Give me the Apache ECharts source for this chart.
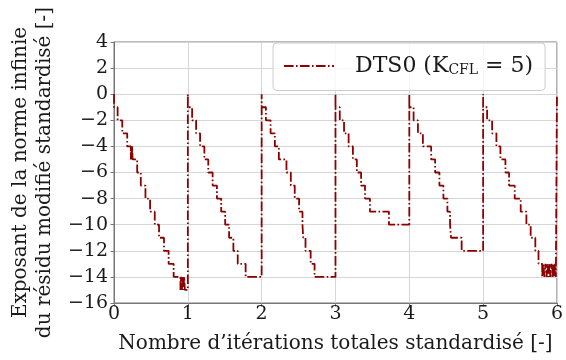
<!DOCTYPE html>
<html>
<head>
<meta charset="utf-8">
<script src="https://cdn.jsdelivr.net/npm/echarts@6/dist/echarts.min.js"></script>
<style>html,body{margin:0;padding:0;background:#fff}#c{width:566px;height:360px}</style>
</head>
<body>
<div id="c"></div>
<script>
// Step points: at each x the residual exponent becomes y
const run1X = [0, 0, 0.049, 0.112, 0.179, 0.228, 0.234, 0.240, 0.246, 0.252, 0.314, 0.363, 0.426, 0.489, 0.552, 0.610, 0.677, 0.740, 0.808, 0.900, 0.910, 0.920, 0.930, 0.940, 0.950, 0.960];
const run1Y = [0, -1, -2, -3, -4, -5, -4, -5, -4, -5, -6, -7, -8, -9, -10, -11, -12, -13, -14, -15, -14, -15, -14, -15, -14, -15];
const run2X = [1, 1, 1.058, 1.112, 1.166, 1.224, 1.277, 1.336, 1.394, 1.452, 1.506, 1.559, 1.617, 1.676, 1.783];
const run2Y = [0, -1, -2, -3, -4, -5, -6, -7, -8, -9, -10, -11, -12, -13, -14];
const run3X = [2, 2, 2.058, 2.121, 2.179, 2.233, 2.336, 2.395, 2.448, 2.507, 2.553, 2.563, 2.594, 2.664, 2.717];
const run3Y = [0, -1, -2, -3, -4, -5, -6, -7, -8, -9, -10, -11, -12, -13, -14];
const run4X = [3, 3, 3.058, 3.116, 3.178, 3.236, 3.289, 3.347, 3.400, 3.467, 3.724];
const run4Y = [0, -1, -2, -3, -4, -5, -6, -7, -8, -9, -10];
const run5X = [4, 4, 4.058, 4.117, 4.184, 4.296, 4.350, 4.408, 4.462, 4.516, 4.552, 4.565, 4.709];
const run5Y = [0, -1, -2, -3, -4, -5, -6, -7, -8, -9, -10, -11, -12];
const run6X = [5, 5, 5.054, 5.122, 5.180, 5.234, 5.302, 5.351, 5.428, 5.509, 5.586, 5.644, 5.707, 5.750, 5.800, 5.815, 5.830, 5.845, 5.860, 5.870, 5.885, 5.900, 5.910, 5.925, 5.940, 5.950, 5.965, 5.975, 5.985, 5.995, 6.0];
const run6Y = [0, -1, -2, -3, -4, -5, -6, -7, -8, -9, -10, -11, -12, -13, -14, -13, -14, -13, -14, -13, -14, -13, -14, -13, -14, -13, -14, -13, -14, -14, 0];

const xTicks = [0, 1, 2, 3, 4, 5, 6];
const yTicks = [-16, -14, -12, -10, -8, -6, -4, -2, 0, 2, 4];
const seriesName = 'DTS0 (KCFL = 5)';

const runsX = [run1X, run2X, run3X, run4X, run5X, run6X];
const runsY = [run1Y, run2Y, run3Y, run4Y, run5Y, run6Y];
const data = [];
runsX.forEach((xs, r) => xs.forEach((x, i) => data.push([x, runsY[r][i]])));

const FONT = 'DejaVu Serif';
const TXT = '#1a1a1a';
const SPINE = '#777';
const GRIDC = '#d6d6d6';
const LINEC = '#8b0000';

const chart = echarts.init(document.getElementById('c'), null, {renderer: 'canvas'});
chart.setOption({
  animation: false,
  backgroundColor: '#fff',
  grid: {left: 114, right: 6, top: 42, bottom: 57, show: true, borderColor: SPINE, borderWidth: 1, backgroundColor: 'transparent'},
  xAxis: {
    type: 'value', min: xTicks[0], max: xTicks[xTicks.length - 1], interval: 1,
    axisLine: {show: true, onZero: false, lineStyle: {color: SPINE}},
    axisTick: {show: true, length: 3.5, lineStyle: {color: SPINE}},
    splitLine: {show: true, lineStyle: {color: GRIDC, width: 1}},
    axisLabel: {fontFamily: FONT, fontSize: 19, color: TXT, margin: 2},
    name: 'Nombre d’itérations totales standardisé [-]',
    nameLocation: 'middle', nameGap: 31,
    nameTextStyle: {fontFamily: FONT, fontSize: 20, color: TXT}
  },
  yAxis: {
    type: 'value', min: yTicks[0], max: yTicks[yTicks.length - 1], interval: 2,
    axisLine: {show: true, onZero: false, lineStyle: {color: SPINE}},
    axisTick: {show: true, length: 3.5, lineStyle: {color: SPINE}},
    splitLine: {show: true, lineStyle: {color: GRIDC, width: 1}},
    axisLabel: {fontFamily: FONT, fontSize: 19, color: TXT, margin: 6,
      formatter: v => v < 0 ? '\u2212' + Math.abs(v) : String(v)},
    name: 'Exposant de la norme infinie\ndu résidu modifié standardisé [-]',
    nameLocation: 'middle', nameGap: 53, nameRotate: 90,
    nameTextStyle: {fontFamily: FONT, fontSize: 20, color: TXT, lineHeight: 24}
  },
  legend: {
    left: 273, top: 43,
    padding: [12, 12, 13, 10],
    itemWidth: 50, itemHeight: 12,
    backgroundColor: 'rgba(255,255,255,0.8)',
    borderColor: '#cccccc', borderWidth: 1, borderRadius: 4,
    data: [{name: seriesName, itemStyle: {opacity: 0}}],
    formatter: () => '{g| }{a|DTS0 (K}{s|CFL}{a| = 5)}',
    textStyle: {
      fontFamily: FONT, color: TXT, fontSize: 22,
      rich: {
        g: {width: 16, fontSize: 22},
        a: {fontFamily: FONT, fontSize: 22, color: TXT},
        s: {fontFamily: FONT, fontSize: 14, color: TXT, verticalAlign: 'bottom', padding: [9, 0, 0, 0]}
      }
    }
  },
  series: [{
    name: seriesName,
    type: 'line',
    step: 'end',
    showSymbol: false,
    symbol: 'none',
    data: data,
    color: LINEC,
    lineStyle: {color: LINEC, width: 1.8, type: [9.6, 2.4, 1.6, 2.4]}
  }]
});
</script>
</body>
</html>
